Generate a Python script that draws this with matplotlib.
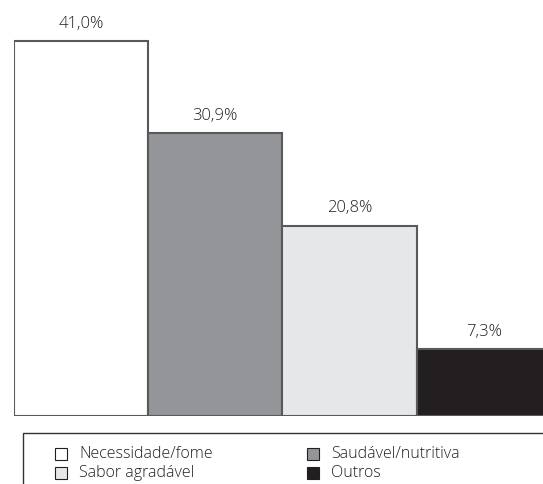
import matplotlib
matplotlib.use("Agg")
import matplotlib.pyplot as plt
from matplotlib.patches import Rectangle

categories = ["Necessidade/fome", "Saudável/nutritiva", "Sabor agradável", "Outros"]
values = [41.0, 30.9, 20.8, 7.3]
labels = ["41,0%", "30,9%", "20,8%", "7,3%"]
colors = ["#ffffff", "#939598", "#e6e7e8", "#231f20"]
edge = "#58595b"
txt = "#231f20"

plt.rcParams['font.family'] = ['Open Sans', 'DejaVu Sans']

W, H = 543, 484
ppu = 9.15
fig = plt.figure(figsize=(W / 100, H / 100), dpi=100)
ax = fig.add_axes([14 / W, 1 - 416 / H, 1 - 14 / W + 0.002, 45 * ppu / H])
x = range(len(values))
ax.bar(x, values, width=1.0, color=colors, edgecolor=edge, linewidth=1.5)
for xi, v, lab in zip(x, values, labels):
    ax.text(xi, v + 1.45, lab, ha="center", va="baseline", fontsize=12, color=txt,
            fontweight="light")
ax.set_xlim(-0.5, 3.45)
ax.set_ylim(0, 45)
ax.axis("off")


def fx(px):
    return px / W


def fy(py):
    return 1 - py / H


fig.patches.append(Rectangle((fx(23), fy(492)), fx(530), 59 / H, transform=fig.transFigure,
                             facecolor="white", edgecolor="#333333", linewidth=1.0))
pos = [(55, 454), (307, 454), (55, 473), (307, 473)]
for i, (px, py) in enumerate(pos):
    fig.patches.append(Rectangle((fx(px), fy(py + 6)), 12 / W, 12 / H, transform=fig.transFigure,
                                 facecolor=colors[i], edgecolor="#231f20", linewidth=0.8))
    fig.text(fx(px + 24), fy(py), categories[i], ha="left", va="center", fontsize=11.5,
             color=txt, fontweight="light")

fig.savefig("out.png", dpi=100)
